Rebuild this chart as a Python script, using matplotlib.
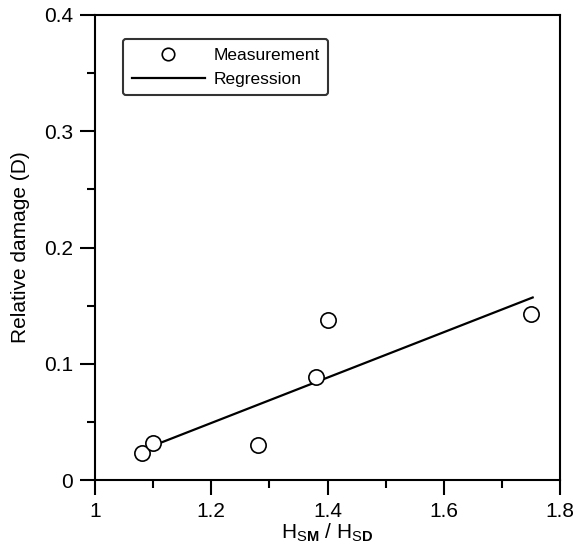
import numpy as np
import matplotlib
matplotlib.use("Agg")
import matplotlib.pyplot as plt

plt.rcParams['font.family'] = ['Liberation Sans', 'DejaVu Sans']
plt.rcParams['mathtext.fontset'] = 'custom'
plt.rcParams['mathtext.rm'] = 'Liberation Sans'
plt.rcParams['mathtext.bf'] = 'Liberation Sans:bold'

# measured points
hs_ratio = [1.08, 1.10, 1.28, 1.38, 1.40, 1.75]
damage = [0.023, 0.032, 0.030, 0.089, 0.138, 0.143]

# regression line endpoints
reg_x = [1.082, 1.753]
reg_y = [0.026, 0.157]

x_ticks = [1.0, 1.2, 1.4, 1.6, 1.8]
x_labels = ['1', '1.2', '1.4', '1.6', '1.8']
y_ticks = [0.0, 0.1, 0.2, 0.3, 0.4]
y_labels = ['0', '0.1', '0.2', '0.3', '0.4']

fig = plt.figure(figsize=(5.73, 5.56), dpi=100)
ax = fig.add_axes([95/573, 1-480/556, 465/573, 465/556])

ax.plot(reg_x, reg_y, color='black', lw=1.6, label='Regression', zorder=2)
ax.plot(hs_ratio, damage, 'o', ms=11, mfc='white', mec='black', mew=1.2,
        label='Measurement', zorder=3)

ax.set_xlim(1, 1.8)
ax.set_ylim(0, 0.4)
ax.set_xticks(x_ticks, x_labels)
ax.set_yticks(y_ticks, y_labels)
ax.set_xticks([1.1, 1.3, 1.5, 1.7], minor=True)
ax.set_yticks([0.05, 0.15, 0.25, 0.35], minor=True)
ax.tick_params(which='major', direction='out', length=11, width=1.5, labelsize=15, pad=5)
ax.tick_params(which='minor', direction='out', length=6, width=1.5)
for s in ax.spines.values():
    s.set_linewidth(1.5)

ax.set_xlabel(r'H$_{\mathrm{S}\mathbf{M}}$ / H$_{\mathrm{S}\mathbf{D}}$', fontsize=15, labelpad=0)
ax.set_ylabel('Relative damage (D)', fontsize=15, labelpad=10)

h, l = ax.get_legend_handles_labels()
leg = ax.legend(h[::-1], l[::-1], loc='upper left', bbox_to_anchor=(123/573, 1-39/556),
                bbox_transform=fig.transFigure, borderaxespad=0, fontsize=12.5,
                handlelength=4.2, handletextpad=0.5, labelspacing=0.5,
                fancybox=True, frameon=True, borderpad=0.5)
leg.get_frame().set_edgecolor('black')
leg.get_frame().set_linewidth(1.5)
leg.legend_handles[0].set_markersize(9)

fig.savefig('out.png', dpi=100)
